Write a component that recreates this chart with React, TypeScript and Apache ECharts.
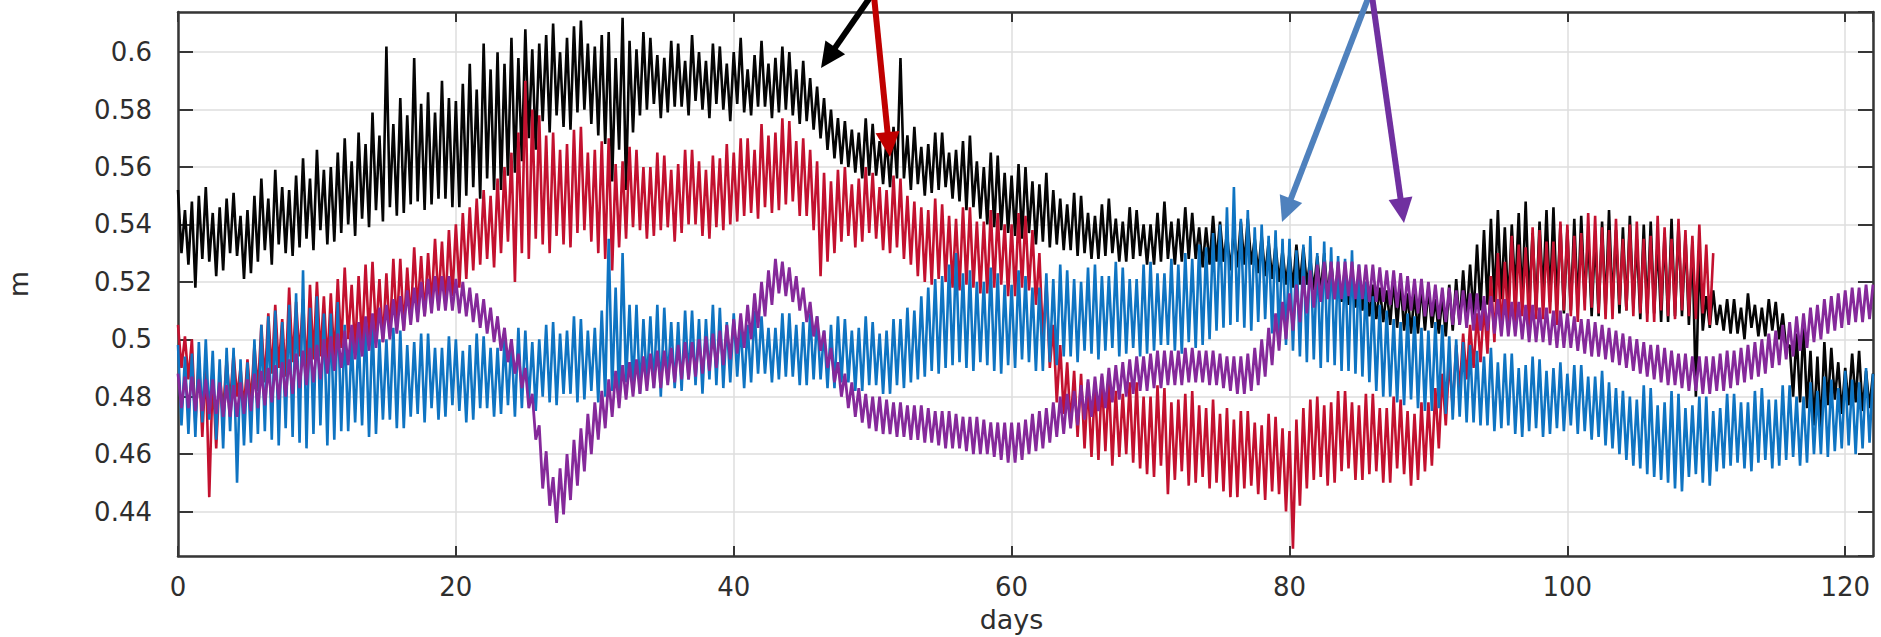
import React, { useEffect, useRef } from "react";
import * as echarts from "echarts";

// sampling step of every series, in days (4 samples per day)
const STEP_DAYS = 0.25;

const X_TICKS_INTERVAL = 20;
const X_MIN = 0;
const X_MAX = 122;
const Y_MIN = 0.4245;
const Y_MAX = 0.614;

// black series, day 0 .. 122 (one row = 5 days)
const blackValues = [
  .552, .530, .545, .526, .548, .518, .550, .528, .553, .527, .544, .522, .546, .524, .549, .530, .551, .529, .543, .521,
  .545, .523, .550, .527, .556, .531, .549, .526, .559, .533, .553, .530, .552, .529, .557, .532, .563, .535, .556, .531,
  .566, .538, .559, .533, .560, .534, .565, .537, .570, .540, .562, .536, .572, .542, .568, .539, .579, .545, .571, .541,
  .602, .546, .575, .543, .584, .544, .578, .547, .598, .548, .582, .545, .586, .547, .579, .549, .590, .549, .584, .546,
  .583, .546, .589, .550, .596, .553, .587, .549, .603, .556, .594, .552, .600, .552, .596, .557, .605, .558, .598, .562,
  .608, .570, .601, .566, .603, .576, .606, .572, .610, .578, .600, .574, .605, .573, .609, .579, .611, .580, .603, .575,
  .602, .571, .606, .568, .607, .555, .598, .566, .612, .552, .604, .572, .601, .578, .607, .580, .605, .582, .599, .577,
  .598, .579, .604, .581, .603, .581, .597, .578, .606, .583, .600, .580, .597, .577, .603, .582, .602, .580, .596, .576,
  .600, .582, .605, .579, .594, .578, .599, .581, .604, .581, .596, .577, .598, .579, .602, .580, .600, .578, .594, .575,
  .597, .576, .591, .573, .588, .570, .584, .566, .580, .563, .577, .561, .576, .560, .573, .558, .572, .556, .577, .557,
  .575, .557, .569, .554, .570, .553, .574, .556, .598, .556, .571, .552, .574, .554, .567, .550, .568, .551, .572, .552,
  .572, .553, .565, .549, .566, .548, .569, .545, .571, .546, .562, .542, .560, .540, .565, .539, .564, .538, .558, .537,
  .557, .536, .561, .535, .560, .537, .555, .533, .554, .534, .558, .532, .552, .533, .549, .531, .547, .531, .551, .529,
  .550, .530, .544, .528, .543, .528, .547, .529, .549, .530, .542, .527, .541, .527, .546, .528, .545, .529, .540, .526,
  .540, .526, .544, .527, .548, .528, .541, .526, .542, .527, .546, .528, .544, .528, .539, .525, .539, .526, .543, .527,
  .541, .527, .537, .524, .538, .525, .541, .526, .542, .526, .535, .523, .536, .522, .534, .521, .533, .520, .531, .519,
  .530, .518, .533, .519, .532, .519, .528, .517, .529, .516, .530, .515, .527, .514, .525, .513, .525, .512, .523, .511,
  .522, .510, .520, .508, .519, .507, .518, .506, .517, .505, .521, .504, .520, .503, .516, .502, .516, .502, .519, .503,
  .518, .504, .514, .502, .515, .501, .519, .503, .521, .505, .524, .507, .526, .508, .533, .510, .538, .512, .542, .513,
  .545, .514, .539, .511, .540, .516, .544, .512, .548, .513, .537, .510, .541, .515, .545, .513, .546, .512, .540, .509,
  .538, .510, .542, .511, .543, .514, .536, .508, .536, .508, .541, .510, .545, .512, .538, .509, .539, .510, .543, .511,
  .535, .507, .540, .509, .541, .509, .534, .506, .537, .506, .542, .508, .540, .508, .536, .505, .534, .480, .530, .503,
  .515, .504, .517, .505, .512, .503, .514, .502, .514, .502, .511, .500, .516, .504, .512, .501, .511, .501, .514, .503,
  .513, .500, .509, .497, .498, .480, .502, .478, .505, .476, .496, .470, .494, .468, .499, .477, .497, .479, .492, .474,
  .490, .477, .495, .478, .496, .475, .489, .476, .488,
];

// red series, day 0 .. 110.5
const redValues = [
  .505, .490, .501, .486, .500, .470, .494, .466, .492, .445, .488, .462, .488, .475, .493, .478, .495, .480, .490, .476,
  .493, .478, .498, .482, .505, .485, .509, .488, .512, .490, .507, .487, .518, .492, .513, .494, .514, .489, .519, .493,
  .520, .494, .515, .491, .516, .493, .521, .497, .525, .500, .519, .496, .522, .498, .526, .501, .527, .502, .521, .499,
  .523, .501, .528, .504, .528, .503, .525, .506, .532, .510, .529, .508, .530, .512, .535, .513, .534, .511, .538, .515,
  .540, .518, .544, .521, .546, .524, .549, .526, .552, .528, .550, .525, .556, .530, .560, .534, .565, .520, .572, .530,
  .590, .528, .580, .535, .578, .533, .571, .530, .572, .536, .566, .533, .568, .532, .573, .537, .574, .538, .565, .534,
  .566, .530, .569, .528, .570, .524, .561, .532, .562, .535, .567, .539, .566, .538, .560, .535, .560, .536, .565, .538,
  .564, .539, .559, .534, .561, .537, .566, .540, .566, .540, .562, .536, .559, .535, .564, .539, .563, .538, .568, .540,
  .565, .541, .570, .543, .570, .544, .566, .542, .575, .546, .571, .544, .572, .545, .577, .547, .576, .548, .569, .543,
  .570, .543, .566, .538, .562, .522, .558, .527, .555, .530, .559, .534, .560, .536, .554, .532, .556, .534, .560, .537,
  .558, .535, .553, .531, .552, .530, .557, .532, .556, .528, .550, .526, .548, .522, .546, .520, .545, .519, .549, .521,
  .547, .520, .543, .518, .542, .517, .546, .519, .546, .518, .541, .516, .541, .516, .545, .518, .544, .519, .540, .515,
  .540, .515, .544, .518, .543, .517, .538, .512, .530, .500, .520, .490, .505, .478, .498, .474, .492, .470, .489, .466,
  .488, .462, .485, .459, .484, .458, .487, .461, .486, .456, .482, .459, .481, .460, .485, .457, .485, .455, .480, .453,
  .480, .452, .484, .456, .483, .446, .478, .451, .479, .454, .481, .449, .482, .450, .477, .452, .476, .448, .479, .450,
  .474, .447, .476, .445, .472, .445, .475, .448, .475, .449, .471, .446, .470, .444, .474, .447, .473, .446, .469, .440,
  .468, .427, .472, .442, .476, .448, .479, .451, .480, .452, .477, .449, .478, .450, .482, .454, .482, .455, .478, .451,
  .477, .451, .481, .453, .481, .454, .476, .450, .476, .450, .480, .455, .479, .453, .475, .449, .474, .451, .478, .454,
  .478, .456, .483, .462, .488, .470, .493, .476, .498, .482, .502, .486, .505, .490, .509, .492, .512, .495, .522, .499,
  .530, .502, .527, .504, .536, .506, .533, .508, .532, .504, .539, .507, .538, .507, .534, .509, .534, .505, .541, .510,
  .540, .508, .536, .506, .537, .510, .544, .511, .543, .509, .539, .507, .538, .507, .542, .512, .535, .510, .540, .508,
  .541, .509, .535, .506, .536, .506, .543, .510, .539, .508, .535, .507, .542, .510, .538, .508, .536, .507, .540, .509,
  .533, .505, .530,
];

// blue series, day 0 .. 122
const blueValues = [
  .498, .470, .494, .467, .495, .466, .499, .471, .500, .472, .496, .465, .493, .462, .497, .468, .497, .450, .493, .463,
  .492, .464, .500, .467, .505, .468, .508, .465, .510, .463, .506, .469, .512, .466, .516, .464, .524, .462, .511, .467,
  .515, .470, .509, .463, .509, .465, .513, .468, .505, .468, .501, .471, .502, .470, .507, .466, .506, .467, .500, .472,
  .500, .472, .504, .469, .503, .469, .498, .473, .499, .474, .502, .471, .502, .476, .497, .472, .497, .473, .501, .477,
  .500, .475, .496, .471, .498, .472, .502, .476, .501, .476, .497, .473, .497, .474, .500, .477, .500, .473, .504, .476,
  .503, .478, .499, .475, .500, .480, .505, .478, .506, .477, .502, .481, .503, .481, .508, .478, .507, .479, .503, .482,
  .504, .478, .510, .480, .535, .482, .518, .479, .530, .485, .512, .483, .512, .481, .507, .484, .508, .483, .512, .480,
  .511, .485, .506, .483, .506, .482, .510, .486, .510, .484, .507, .481, .507, .486, .512, .484, .511, .483, .506, .485,
  .509, .487, .505, .483, .505, .485, .510, .488, .508, .488, .504, .485, .504, .486, .509, .487, .509, .487, .505, .484,
  .506, .484, .509, .486, .508, .486, .503, .483, .505, .483, .508, .485, .507, .485, .503, .482, .504, .482, .508, .484,
  .506, .484, .502, .481, .503, .481, .507, .484, .507, .483, .511, .485, .510, .486, .515, .487, .518, .489, .521, .488,
  .522, .490, .526, .491, .530, .492, .523, .490, .524, .489, .520, .492, .520, .491, .525, .489, .523, .488, .519, .491,
  .519, .490, .524, .493, .522, .492, .518, .489, .518, .489, .523, .492, .521, .491, .526, .494, .524, .494, .521, .492,
  .520, .496, .525, .495, .526, .493, .522, .496, .522, .497, .527, .494, .525, .495, .521, .497, .521, .494, .526, .495,
  .527, .496, .523, .498, .523, .498, .528, .496, .526, .495, .530, .499, .528, .497, .533, .498, .532, .500, .537, .503,
  .540, .504, .546, .505, .553, .506, .542, .504, .545, .503, .539, .506, .540, .507, .536, .502, .538, .500, .535, .498,
  .535, .496, .531, .494, .533, .492, .536, .493, .530, .490, .534, .492, .532, .491, .529, .489, .528, .489, .531, .488,
  .526, .487, .520, .485, .515, .482, .512, .480, .510, .480, .507, .478, .506, .477, .509, .479, .508, .476, .504, .475,
  .503, .475, .506, .476, .505, .474, .501, .472, .500, .473, .499, .471, .498, .471, .496, .470, .494, .470, .497, .468,
  .492, .469, .495, .470, .495, .467, .490, .466, .491, .468, .494, .469, .493, .466, .489, .467, .490, .469, .492, .468,
  .488, .470, .491, .467, .491, .468, .487, .465, .487, .466, .489, .463, .485, .462, .483, .460, .482, .458, .480, .456,
  .479, .455, .484, .453, .483, .452, .477, .451, .478, .450, .482, .448, .481, .447, .476, .452, .477, .453, .480, .450,
  .480, .449, .475, .454, .476, .455, .481, .456, .481, .457, .478, .455, .478, .454, .482, .457, .483, .458, .479, .455,
  .479, .456, .484, .458, .484, .459, .480, .456, .480, .457, .485, .460, .482, .460, .487, .459, .486, .461, .483, .462,
  .489, .463, .486, .460, .485, .462, .490, .464, .488,
];

// purple series, day 0 .. 122
const purpleValues = [
  .488, .476, .487, .476, .487, .475, .486, .475, .486, .474, .486, .474, .485, .473, .484, .473, .484, .473, .485, .474,
  .486, .475, .488, .476, .489, .477, .490, .478, .491, .479, .492, .480, .493, .481, .495, .483, .496, .484, .497, .485,
  .498, .486, .500, .488, .501, .489, .502, .490, .503, .491, .505, .493, .506, .494, .508, .496, .509, .497, .511, .499,
  .512, .500, .514, .502, .515, .503, .517, .505, .518, .506, .520, .508, .521, .509, .522, .510, .522, .510, .522, .510,
  .521, .509, .520, .508, .518, .506, .516, .504, .514, .502, .511, .499, .508, .496, .504, .492, .500, .488, .495, .483,
  .490, .476, .481, .465, .470, .448, .461, .442, .452, .436, .455, .439, .460, .444, .465, .449, .469, .454, .474, .460,
  .478, .465, .482, .469, .486, .473, .489, .476, .491, .479, .492, .480, .493, .481, .494, .482, .495, .483, .496, .483,
  .496, .484, .497, .485, .498, .486, .499, .486, .499, .487, .500, .488, .501, .489, .502, .490, .503, .491, .505, .493,
  .507, .495, .509, .497, .512, .500, .516, .504, .520, .508, .524, .512, .528, .516, .527, .515, .525, .513, .522, .510,
  .518, .506, .513, .501, .508, .496, .503, .490, .497, .485, .492, .480, .488, .476, .485, .473, .483, .471, .481, .469,
  .480, .468, .480, .467, .479, .467, .478, .466, .478, .466, .477, .465, .477, .465, .477, .464, .476, .464, .475, .463,
  .475, .462, .475, .462, .474, .462, .473, .461, .473, .460, .473, .460, .472, .460, .471, .459, .471, .458, .471, .457,
  .471, .457, .471, .458, .472, .460, .474, .461, .475, .462, .476, .464, .478, .466, .480, .467, .481, .469, .482, .470,
  .484, .472, .486, .473, .487, .475, .488, .476, .490, .478, .491, .479, .492, .480, .493, .481, .494, .482, .494, .482,
  .495, .483, .496, .483, .496, .484, .496, .484, .496, .484, .497, .485, .497, .485, .496, .485, .496, .484, .496, .484,
  .495, .483, .494, .482, .494, .481, .494, .481, .495, .482, .497, .484, .500, .487, .504, .491, .509, .496, .513, .500,
  .516, .503, .519, .506, .522, .509, .524, .511, .526, .513, .527, .514, .527, .514, .527, .514, .527, .515, .527, .514,
  .526, .514, .526, .513, .526, .513, .525, .513, .524, .512, .524, .511, .523, .510, .522, .510, .521, .509, .521, .508,
  .520, .508, .519, .507, .518, .506, .518, .505, .517, .505, .517, .504, .516, .503, .516, .503, .515, .503, .515, .502,
  .514, .501, .514, .501, .513, .501, .513, .500, .512, .499, .512, .499, .511, .499, .511, .498, .510, .497, .510, .497,
  .509, .497, .508, .496, .507, .495, .507, .494, .506, .494, .505, .493, .504, .492, .503, .491, .502, .490, .501, .489,
  .500, .488, .499, .487, .498, .486, .498, .485, .497, .484, .496, .484, .495, .483, .495, .482, .494, .482, .494, .481,
  .494, .481, .494, .482, .495, .482, .496, .483, .496, .484, .497, .485, .498, .486, .499, .487, .500, .488, .502, .490,
  .503, .491, .505, .493, .506, .494, .508, .496, .509, .497, .511, .499, .512, .500, .514, .502, .515, .503, .516, .504,
  .517, .505, .518, .506, .518, .506, .519, .507, .519,
];

const SERIES_NAMES = ["black", "red", "blue", "purple"];
const SERIES_COLORS = ["#050505", "#c3112f", "#0f74c2", "#85299a"];
const SERIES_WIDTHS = [2.6, 2.6, 2.6, 2.8];
const SERIES_VALUES = [blackValues, redValues, blueValues, purpleValues];

// annotation arrows: [tailX, tailY, tipX, tipY, colour]
const ARROWS: [number, number, number, number, string][] = [
  [871, -4, 821, 68, "#000000"],
  [874, -4, 890, 157, "#c00000"],
  [1369, -4, 1282, 222, "#4f81bd"],
  [1372, -4, 1404, 223, "#7030a0"],
];

function arrowGraphics() {
  const out: any[] = [];
  ARROWS.forEach(([x1, y1, x2, y2, color]) => {
    const dx = x2 - x1;
    const dy = y2 - y1;
    const len = Math.sqrt(dx * dx + dy * dy);
    const ux = dx / len;
    const uy = dy / len;
    const headLen = 25;
    const headHalf = 12;
    const bx = x2 - ux * headLen;
    const by = y2 - uy * headLen;
    out.push({
      type: "line",
      z: 100,
      shape: { x1, y1, x2: bx + ux * 2, y2: by + uy * 2 },
      style: { stroke: color, lineWidth: 6 },
      silent: true,
    });
    out.push({
      type: "polygon",
      z: 100,
      shape: {
        points: [
          [x2, y2],
          [bx - uy * headHalf, by + ux * headHalf],
          [bx + uy * headHalf, by - ux * headHalf],
        ],
      },
      style: { fill: color },
      silent: true,
    });
  });
  return out;
}

const FONT = "DejaVu Sans";
const AXIS_COLOR = "#363636";
const LABEL_COLOR = "#2e2e2e";

export default function App() {
  const ref = useRef<HTMLDivElement>(null);

  useEffect(() => {
    document.body.style.margin = "0";
    if (!ref.current) return;
    const chart = echarts.init(ref.current, undefined, { renderer: "svg" });

    const series = SERIES_VALUES.map((vals, k) => ({
      name: SERIES_NAMES[k],
      type: "line",
      xAxisIndex: 0,
      yAxisIndex: 0,
      showSymbol: false,
      symbol: "none",
      silent: true,
      lineStyle: { color: SERIES_COLORS[k], width: SERIES_WIDTHS[k] },
      itemStyle: { color: SERIES_COLORS[k] },
      data: vals.map((v, i) => [i * STEP_DAYS, v]),
      z: 2 + k,
    }));

    const xCommon = {
      type: "value",
      min: X_MIN,
      max: X_MAX,
      interval: X_TICKS_INTERVAL,
      axisLine: { show: true, onZero: false, lineStyle: { color: AXIS_COLOR, width: 2.5 } },
      axisTick: { show: true, inside: true, length: 10, lineStyle: { color: AXIS_COLOR, width: 2 } },
    };
    const yCommon = {
      type: "value",
      min: Y_MIN,
      max: Y_MAX,
      splitNumber: 9,
      axisLine: { show: true, onZero: false, lineStyle: { color: AXIS_COLOR, width: 2.5 } },
      axisTick: { show: true, inside: true, length: 15, lineStyle: { color: AXIS_COLOR, width: 2 } },
    };

    chart.setOption({
      animation: false,
      backgroundColor: "#ffffff",
      textStyle: { fontFamily: FONT },
      grid: { left: 178, right: 8, top: 12, bottom: 81, containLabel: false, outerBoundsMode: "none" },
      xAxis: [
        {
          ...xCommon,
          position: "bottom",
          name: "days",
          nameLocation: "middle",
          nameGap: 50,
          nameTextStyle: { fontSize: 27, color: LABEL_COLOR, fontFamily: FONT, padding: [0, 28, 0, 0] },
          axisLabel: {
            show: true,
            margin: 18,
            fontSize: 26,
            color: LABEL_COLOR,
            fontFamily: FONT,
            showMaxLabel: false,
          },
          splitLine: { show: true, lineStyle: { color: "#dedede", width: 1.5 } },
        },
        {
          ...xCommon,
          position: "top",
          axisLabel: { show: false },
          splitLine: { show: false },
        },
      ],
      yAxis: [
        {
          ...yCommon,
          position: "left",
          name: "m",
          nameLocation: "middle",
          nameRotate: 90,
          nameGap: 146,
          nameTextStyle: { fontSize: 27, color: LABEL_COLOR, fontFamily: FONT },
          axisLabel: {
            show: true,
            margin: 26,
            fontSize: 26,
            color: LABEL_COLOR,
            fontFamily: FONT,
            showMinLabel: false,
            showMaxLabel: false,
          },
          splitLine: { show: true, lineStyle: { color: "#dedede", width: 1.5 } },
        },
        {
          ...yCommon,
          position: "right",
          axisLabel: { show: false },
          splitLine: { show: false },
        },
      ],
      series,
      graphic: arrowGraphics(),
    });

    return () => chart.dispose();
  }, []);

  return <div ref={ref} style={{ width: 1881, height: 637 }} />;
}
